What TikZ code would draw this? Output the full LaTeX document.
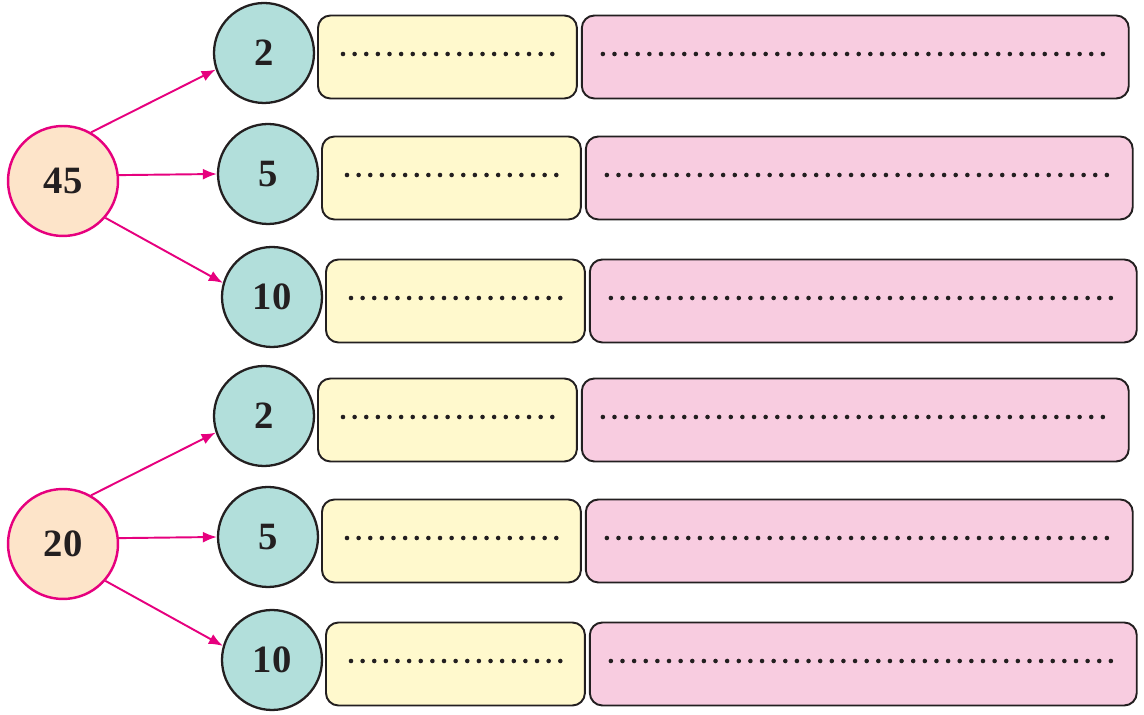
\documentclass[tikz,border=0pt]{standalone}
\usepackage{fontspec}
\setmainfont{Liberation Serif}
\usetikzlibrary{arrows.meta}
\definecolor{peach}{HTML}{FDE4C9}
\definecolor{rosered}{HTML}{E6007E}
\definecolor{mint}{HTML}{B2DFDB}
\definecolor{lemon}{HTML}{FFF9CD}
\definecolor{candy}{HTML}{F8CCE0}
\definecolor{ink}{HTML}{231F20}

\begin{document}
\begin{tikzpicture}[x=0.02cm, y=-0.02cm,
    >=Latex,
    every node/.style={font=\bfseries\fontsize{22}{22}\selectfont, text=ink},
    root/.style={circle, draw=rosered, fill=peach, line width=1.4pt, minimum size=2.2cm, inner sep=0pt},
    factor/.style={circle, draw=ink, fill=mint, line width=1.3pt, minimum size=2.0cm, inner sep=0pt},
    ansbox/.style={draw=ink, rounded corners=0.25cm, line width=1.1pt, minimum height=1.66cm, inner sep=0pt, anchor=west},
    split/.style={-{Latex[length=0.28cm, width=0.22cm]}, rosered, line width=1.1pt},
    dotrow/.style={ink, line width=2.6pt, line cap=round, dash pattern=on 0pt off 0.2326cm}
  ]
  \useasboundingbox (0,0) rectangle (1144,715);

  \foreach \g/\gy/\num in {0/0/45, 1/363/20} {
    % the number to split
    \node[root] (r\g) at (63,181+\gy) {\num};

    % its three factors with the blank boxes
    \foreach \k/\cx/\cy/\d in {a/264/53/2, b/268/174/5, c/272/297/10} {
      \node[factor] (f\g\k) at (\cx,\cy+\gy) {\d};
      \node[ansbox, fill=lemon, minimum width=5.18cm] (y\g\k) at (\cx+53,\cy+\gy+4) {};
      \node[ansbox, fill=candy, minimum width=10.94cm] (p\g\k) at ([xshift=0.06cm]y\g\k.east) {};
      \draw[dotrow] ([xshift=0.52cm, yshift=0.06cm]y\g\k.west) -- ++(4.22cm,0);
      \draw[dotrow] ([xshift=0.44cm, yshift=0.06cm]p\g\k.west) -- ++(10.02cm,0);
    }

    % arrows
    \draw[split] (r\g.60) -- (f\g a.199);
    \draw[split] (r\g.6) -- (f\g b.west);
    \draw[split] (r\g.-41) -- (f\g c.164);
  }
\end{tikzpicture}
\end{document}
